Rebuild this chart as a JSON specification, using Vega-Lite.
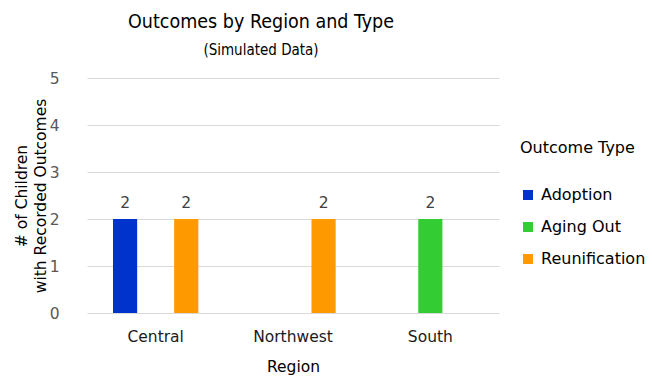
{
  "$schema": "https://vega.github.io/schema/vega-lite/v6.json",
  "width": 412,
  "height": 235,
  "autosize": {"type": "none"},
  "padding": {"left": 87, "top": 78, "right": 153, "bottom": 77},
  "background": "white",
  "title": {
    "text": "Outcomes by Region and Type",
    "subtitle": "(Simulated Data)",
    "anchor": "middle",
    "frame": "group",
    "dx": -32,
    "offset": 12,
    "font": "DejaVu Sans Condensed",
    "fontSize": 19.5,
    "fontWeight": "normal",
    "color": "black",
    "subtitleFont": "DejaVu Sans Condensed",
    "subtitleFontSize": 15,
    "subtitleColor": "black",
    "subtitlePadding": 11
  },
  "config": {
    "view": {"stroke": null},
    "font": "DejaVu Sans"
  },
  "data": {
    "values": [
      {"Region": "Central", "Outcome": "Adoption", "Count": 2},
      {"Region": "Central", "Outcome": "Reunification", "Count": 2},
      {"Region": "Northwest", "Outcome": "Reunification", "Count": 2},
      {"Region": "South", "Outcome": "Aging Out", "Count": 2}
    ]
  },
  "encoding": {
    "x": {
      "field": "Region",
      "type": "nominal",
      "scale": {"paddingInner": 0, "paddingOuter": 0},
      "axis": {
        "title": "Region",
        "labelAngle": 0,
        "labelFont": "DejaVu Sans",
        "labelFontSize": 15.5,
        "labelColor": "#1a1a1a",
        "labelPadding": 16,
        "ticks": false,
        "domain": false,
        "titleFont": "DejaVu Sans",
        "titleFontSize": 15.5,
        "titleFontWeight": "normal",
        "titleColor": "black",
        "titlePadding": 15
      }
    },
    "xOffset": {
      "field": "Outcome",
      "type": "nominal",
      "scale": {"domain": ["Adoption", "Aging Out", "Reunification"], "paddingInner": 0.21, "paddingOuter": 0.85}
    },
    "y": {
      "field": "Count",
      "type": "quantitative",
      "scale": {"domain": [0, 5]},
      "axis": {
        "title": ["# of Children", "with Recorded Outcomes"],
        "tickCount": 5,
        "labelFont": "DejaVu Sans",
        "labelFontSize": 15.5,
        "labelColor": "#595959",
        "labelPadding": 28,
        "ticks": false,
        "domain": false,
        "gridColor": "#d9d9d9",
        "titleFont": "DejaVu Sans",
        "titleFontSize": 15.5,
        "titleFontWeight": "normal",
        "titleColor": "black",
        "titlePadding": 1,
        "titleLineHeight": 19
      }
    }
  },
  "layer": [
    {
      "mark": {"type": "bar"},
      "encoding": {
        "color": {
          "field": "Outcome",
          "type": "nominal",
          "scale": {"domain": ["Adoption", "Aging Out", "Reunification"], "range": ["#0033CC", "#33CC33", "#FF9900"]},
          "legend": {
            "title": "Outcome Type",
            "orient": "none",
            "legendX": 433,
            "legendY": 62,
            "titleFont": "DejaVu Sans",
            "titleFontSize": 16,
            "titleFontWeight": "normal",
            "titleColor": "black",
            "titlePadding": 31,
            "labelFont": "DejaVu Sans",
            "labelFontSize": 16,
            "labelColor": "black",
            "symbolType": "square",
            "symbolSize": 100,
            "symbolStrokeWidth": 0,
            "rowPadding": 16,
            "labelOffset": 5
          }
        }
      }
    },
    {
      "mark": {"type": "text", "baseline": "alphabetic", "dy": -11, "font": "DejaVu Sans", "fontSize": 15.5, "color": "#404040"},
      "encoding": {"text": {"field": "Count", "type": "quantitative"}}
    }
  ]
}
